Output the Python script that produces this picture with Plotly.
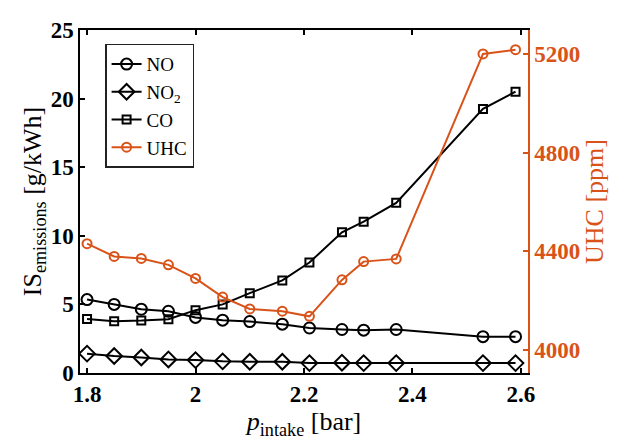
import plotly.graph_objects as go

p_intake = [1.8, 1.85, 1.9, 1.95, 2.0, 2.05, 2.1, 2.16, 2.21, 2.27, 2.31, 2.37, 2.53, 2.59]
no_vals = [5.35, 5.0, 4.65, 4.5, 4.05, 3.85, 3.75, 3.56, 3.28, 3.17, 3.12, 3.17, 2.65, 2.65]
no2_vals = [1.41, 1.24, 1.13, 0.99, 0.94, 0.85, 0.82, 0.82, 0.72, 0.75, 0.72, 0.72, 0.72, 0.72]
co_vals = [3.94, 3.78, 3.82, 3.92, 4.58, 5.0, 5.82, 6.75, 8.05, 10.25, 11.03, 12.4, 19.25, 20.5]
uhc_vals = [4431, 4379, 4371, 4345, 4290, 4214, 4166, 4157, 4136, 4284, 4358, 4369, 5201, 5218]

left_ticks = [0, 5, 10, 15, 20, 25]
right_ticks = [4000, 4400, 4800, 5200]
x_ticks = [1.8, 2.0, 2.2, 2.4, 2.6]
x_tick_text = ["1.8", "2", "2.2", "2.4", "2.6"]

ORANGE = "#D95319"
FONT = "Liberation Serif"

fig = go.Figure()
fig.add_trace(go.Scatter(x=p_intake, y=no_vals, name="NO", mode="lines+markers",
                         line=dict(color="black", width=2),
                         marker=dict(symbol="circle-open", size=11, color="black", line=dict(width=2))))
fig.add_trace(go.Scatter(x=p_intake, y=no2_vals, name="NO<sub>2</sub>", mode="lines+markers",
                         line=dict(color="black", width=2),
                         marker=dict(symbol="diamond-open", size=12, color="black", line=dict(width=2))))
fig.add_trace(go.Scatter(x=p_intake, y=co_vals, name="CO", mode="lines+markers",
                         line=dict(color="black", width=2),
                         marker=dict(symbol="square-open", size=8, color="black", line=dict(width=2))))
fig.add_trace(go.Scatter(x=p_intake, y=uhc_vals, name="UHC", mode="lines+markers", yaxis="y2",
                         line=dict(color=ORANGE, width=2),
                         marker=dict(symbol="circle-open", size=9, color=ORANGE, line=dict(width=2))))

fig.update_layout(
    width=617, height=433,
    margin=dict(l=72, r=97, t=10, b=68),
    paper_bgcolor="white", plot_bgcolor="white",
    font=dict(family=FONT, color="black"),
    showlegend=True,
    legend=dict(x=0.056, y=0.96, xanchor="left", yanchor="top",
                bordercolor="#222", borderwidth=1.5, bgcolor="white",
                font=dict(family=FONT, size=19, color="black"),
                tracegroupgap=0, itemwidth=30),
    xaxis=dict(range=[1.787, 2.613], tickvals=x_ticks, ticktext=x_tick_text,
               ticks="inside", ticklen=5, tickwidth=1.5, tickcolor="black",
               showline=True, linecolor="black", linewidth=1.5, mirror="ticks",
               showgrid=False, zeroline=False,
               tickfont=dict(family=FONT, size=23, weight="bold"),
               title=dict(text="<i>p</i><sub>intake</sub> [bar]", font=dict(family=FONT, size=26), standoff=2)),
    yaxis=dict(range=[0, 25], tickvals=left_ticks,
               ticks="inside", ticklen=5, tickwidth=1.5, tickcolor="black",
               showline=True, linecolor="black", linewidth=1.5,
               showgrid=False, zeroline=False,
               tickfont=dict(family=FONT, size=23, weight="bold"),
               title=dict(text="IS<sub>emissions</sub> [g/kWh]", font=dict(family=FONT, size=26), standoff=2)),
    yaxis2=dict(range=[3906, 5298], tickvals=right_ticks, overlaying="y", side="right",
                ticks="inside", ticklen=5, tickwidth=1.5, tickcolor=ORANGE,
                showline=True, linecolor=ORANGE, linewidth=1.5,
                showgrid=False, zeroline=False,
                tickfont=dict(family=FONT, size=23, weight="bold", color=ORANGE),
                title=dict(text="UHC [ppm]", font=dict(family=FONT, size=26, color=ORANGE), standoff=2)),
)

fig.write_html("out.html")
